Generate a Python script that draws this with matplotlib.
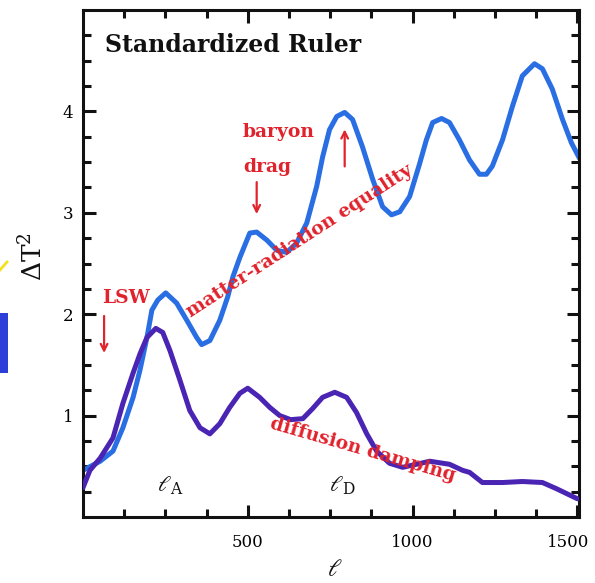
import matplotlib
matplotlib.use("Agg")
import matplotlib.pyplot as plt
import matplotlib.transforms as mtransforms
from matplotlib.patches import Rectangle
from matplotlib.lines import Line2D

# upper curve (with matter-radiation equality / baryon drag)
ell_upper = [0, 52, 91, 121, 152, 173, 194, 209, 227, 251, 284, 315, 345, 360, 385,
             415, 439, 455, 476, 506, 527, 558, 588, 618, 648, 679, 709, 727, 748,
             770, 794, 818, 848, 879, 909, 936, 961, 991, 1021, 1042, 1061, 1088,
             1112, 1142, 1173, 1203, 1224, 1242, 1273, 1303, 1333, 1370, 1394, 1424,
             1455, 1482, 1506]
dt2_upper = [0.46, 0.55, 0.65, 0.88, 1.18, 1.45, 1.77, 2.04, 2.14, 2.21, 2.11, 1.94,
             1.77, 1.70, 1.74, 1.94, 2.17, 2.37, 2.56, 2.80, 2.81, 2.73, 2.63, 2.61,
             2.70, 2.90, 3.26, 3.55, 3.82, 3.95, 3.99, 3.92, 3.65, 3.33, 3.06, 2.98,
             3.01, 3.16, 3.48, 3.72, 3.89, 3.93, 3.89, 3.72, 3.52, 3.38, 3.38, 3.46,
             3.72, 4.05, 4.35, 4.47, 4.42, 4.22, 3.92, 3.69, 3.54]

# lower curve (damped)
ell_lower = [0, 21, 52, 91, 121, 152, 173, 194, 221, 242, 264, 294, 324, 355, 385,
             415, 445, 476, 500, 536, 567, 597, 630, 667, 697, 727, 764, 800, 830,
             861, 891, 930, 970, 1012, 1052, 1112, 1152, 1173, 1212, 1273, 1333,
             1394, 1436, 1500]
dt2_lower = [0.29, 0.46, 0.58, 0.78, 1.12, 1.42, 1.61, 1.77, 1.86, 1.82, 1.64, 1.35,
             1.05, 0.88, 0.82, 0.92, 1.08, 1.22, 1.27, 1.18, 1.08, 1.00, 0.96, 0.97,
             1.07, 1.18, 1.23, 1.18, 1.03, 0.82, 0.65, 0.53, 0.49, 0.52, 0.55, 0.52,
             0.46, 0.44, 0.34, 0.34, 0.35, 0.34, 0.28, 0.18]

xticks = [500, 1000, 1500]
yticks = [1, 2, 3, 4]

blue = '#2a6ee3'
purple = '#4a24b2'
red = '#e0232d'
ink = '#111111'
font = 'DejaVu Serif'
plt.rcParams['mathtext.fontset'] = 'dejavuserif'

fig = plt.figure(figsize=(5.95, 5.83), dpi=100)
ax = fig.add_axes([83 / 595, 66 / 583, 496 / 595, 507 / 583])

ax.plot(ell_upper, dt2_upper, color=blue, lw=3.6, solid_joinstyle='round',
        solid_capstyle='round', zorder=2)
ax.plot(ell_lower, dt2_lower, color=purple, lw=3.6, solid_joinstyle='round',
        solid_capstyle='round', zorder=3)

ax.set_xlim(0, 1505)
ax.set_ylim(0, 5.0)
ax.set_xticks(xticks)
ax.set_xticks([x for x in range(125, 1505, 125) if x not in xticks], minor=True)
ax.set_yticks(yticks)
ax.set_yticks([v / 4 for v in range(1, 20) if v % 4], minor=True)
ax.tick_params(which='both', direction='in', top=True, right=True, width=2.2,
               color=ink, labelsize=12, labelfontfamily=font)
ax.tick_params(which='major', length=9)
ax.tick_params(which='minor', length=5.5)
ax.tick_params(axis='x', pad=12)
ax.tick_params(axis='y', pad=7)
for s in ax.spines.values():
    s.set_linewidth(2.2)
    s.set_color(ink)

# pull the last x label in a bit so it stays on the canvas
last = ax.xaxis.get_major_ticks()[-1].label1
last.set_transform(last.get_transform() +
                   mtransforms.ScaledTranslation(-9 / 100, 0, fig.dpi_scale_trans))

ax.text(0.044, 0.917, 'Standardized Ruler', transform=ax.transAxes,
        fontsize=17, family=font, weight='bold', color=ink,
        ha='left', va='baseline')

# annotations
kw = dict(color=red, family=font, fontsize=13.5, weight='bold', zorder=5)
ax.text(485, 3.80, 'baryon', ha='left', va='center', **kw)
ax.text(485, 3.45, 'drag', ha='left', va='center', **kw)
ax.text(58, 2.16, 'LSW', ha='left', va='center', **kw)
ax.text(658, 2.72, 'matter-radiation equality', ha='center', va='center',
        rotation=33, rotation_mode='anchor', **kw)
ax.text(850, 0.66, 'diffusion damping', ha='center', va='center',
        rotation=-16, rotation_mode='anchor', **kw)

arrow = dict(arrowstyle='->', color=red, lw=1.6, mutation_scale=12)
ax.annotate('', xy=(527, 2.96), xytext=(527, 3.33), arrowprops=arrow, zorder=5)
ax.annotate('', xy=(794, 3.85), xytext=(794, 3.43), arrowprops=arrow, zorder=5)
ax.annotate('', xy=(64, 1.59), xytext=(64, 2.01), arrowprops=arrow, zorder=5)

ax.text(264, 0.31, r'$\ell_{\rm A}$', ha='center', va='center', fontsize=16,
        color=ink, family=font)
ax.text(788, 0.31, r'$\ell_{\rm D}$', ha='center', va='center', fontsize=16,
        color=ink, family=font)

fig.text(335 / 595, 1 - 558 / 583, r'$\ell$', ha='center', va='top', fontsize=17,
         color=ink, family=font)
fig.text(33 / 595, 1 - 257 / 583, r'$\Delta\mathrm{T}^2$', ha='center', va='center',
         rotation=90, fontsize=19, color=ink, family=font)

# colored scraps on the left edge
fig.add_artist(Rectangle((0, 1 - 373 / 583), 8 / 595, 60 / 583,
                         transform=fig.transFigure, color='#2d3fd8', lw=0))
fig.add_artist(Line2D([0, 7 / 595], [1 - 270 / 583, 1 - 262 / 583],
                      transform=fig.transFigure, color='#f2e21c', lw=2))

fig.savefig('out.png', dpi=100)
